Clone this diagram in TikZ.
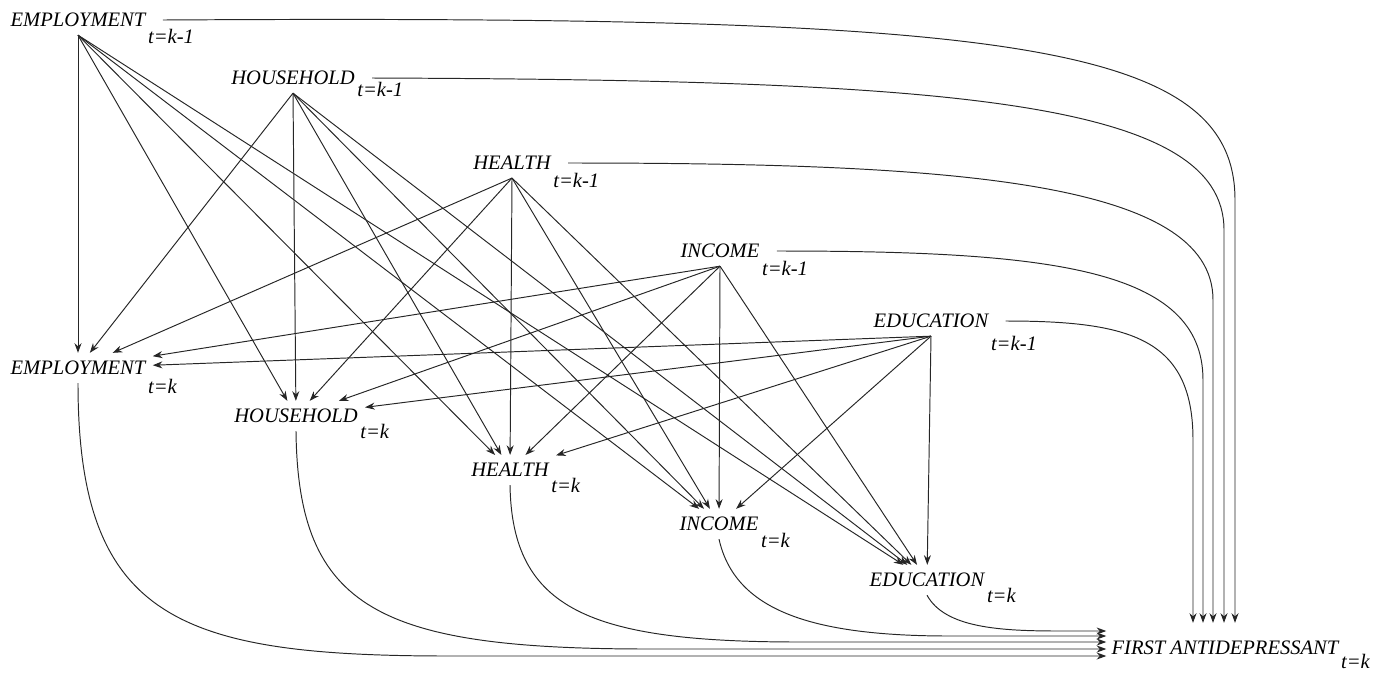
\documentclass[tikz,border=0pt]{standalone}
\usepackage{fontspec}
\setmainfont{Liberation Serif}
\usetikzlibrary{arrows.meta}
\tikzset{
  var/.style={inner xsep=4pt, inner ysep=4.5pt, font=\fontsize{11.7}{14}\selectfont\itshape},
  sub/.style={inner sep=0pt, anchor=west, font=\fontsize{11.7}{14}\selectfont\itshape},
  arr/.style={-{Stealth[length=5.5pt,width=4pt]}, line width=0.55pt, draw=black!85}
}
\newcommand{\Var}[6]{% name,x,y,word,time,drop
  \node[var] (#1) at (#2,#3) {#4};
  \node[sub] (#1t) at ([shift={(-5,#6)}]#1.east) {#5};
}

\begin{document}
\begin{tikzpicture}[x=0.02cm, y=-0.02cm]
  \useasboundingbox (0,0) rectangle (1383,674);
  % previous wave
  \Var{empA}{78}{20}{EMPLOYMENT}{t=k-1}{16}
  \Var{hhA}{293}{78}{HOUSEHOLD}{t=k-1}{11}
  \Var{hlA}{512}{163}{HEALTH}{t=k-1}{17}
  \Var{incA}{720}{251}{INCOME}{t=k-1}{17}
  \Var{eduA}{931}{321}{EDUCATION}{t=k-1}{22}
  % current wave
  \Var{empB}{78}{368}{EMPLOYMENT}{t=k}{18}
  \Var{hhB}{296}{416}{HOUSEHOLD}{t=k}{15}
  \Var{hlB}{510}{470}{HEALTH}{t=k}{15}
  \Var{incB}{719}{524}{INCOME}{t=k}{16}
  \Var{eduB}{927}{580}{EDUCATION}{t=k}{15}
  \Var{first}{1225}{648}{FIRST ANTIDEPRESSANT}{t=k}{13}
  \coordinate (topin) at ([yshift=0.2cm]first.north);
  \coordinate (leftin) at ([xshift=0.04cm]first.west);

  \foreach \s in {empA,hhA,hlA,incA,eduA}{
    \foreach \t in {empB,hhB,hlB,incB,eduB}
      \draw[arr] (\s.south) -- (\t);
  }

  % into the outcome from above
  \draw[arr] ([xshift=0.2cm]empA.east) .. controls (1000,15) and (1235,40) .. (1235,200) -- (1235,200 |- topin);
  \draw[arr] ([xshift=0.2cm]hhA.east) .. controls (950,80) and (1224,100) .. (1224,230) -- (1224,230 |- topin);
  \draw[arr] ([xshift=0.2cm]hlA.east) .. controls (950,163) and (1213,180) .. (1213,300) -- (1213,300 |- topin);
  \draw[arr] ([xshift=0.2cm]incA.east) .. controls (1050,251) and (1203,268) .. (1203,380) -- (1203,380 |- topin);
  \draw[arr] ([xshift=0.2cm]eduA.east) .. controls (1130,321) and (1193,338) .. (1193,440) -- (1193,440 |- topin);

  % into the outcome from the left
  \draw[arr] (empB.south) .. controls (78,620) and (180,656) .. (450,656) -- (leftin |- 450,656);
  \draw[arr] (hhB.south) .. controls (298,610) and (380,649) .. (650,649) -- (leftin |- 650,649);
  \draw[arr] (hlB.south) .. controls (512,610) and (590,642) .. (800,642) -- (leftin |- 800,642);
  \draw[arr] (incB.south) .. controls (735,610) and (810,636) .. (950,636) -- (leftin |- 950,636);
  \draw[arr] (eduB.south) .. controls (945,628) and (1000,631) .. (1060,631) -- (leftin |- 1060,631);
\end{tikzpicture}
\end{document}
